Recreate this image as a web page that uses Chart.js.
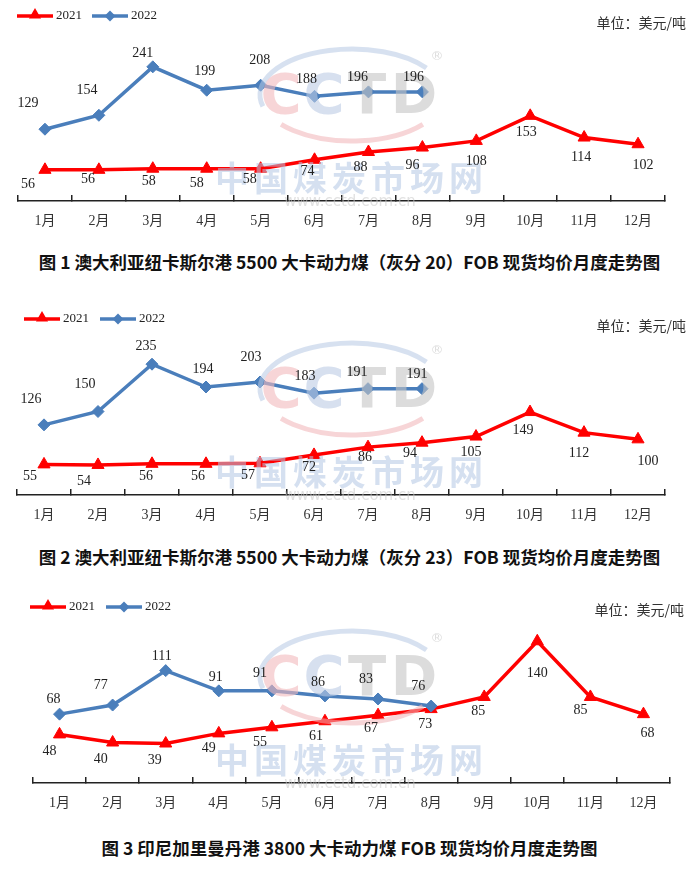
<!DOCTYPE html>
<html><head><meta charset="utf-8">
<script src="https://cdn.jsdelivr.net/npm/chart.js@4.4.0/dist/chart.umd.min.js"></script>
<style>
html,body{margin:0;padding:0;background:#fff;}
body{width:699px;height:878px;position:relative;overflow:hidden;}
canvas{position:absolute;left:0;}
.title{position:absolute;left:0;width:699px;text-align:center;font-family:"Noto Sans CJK SC","Noto Sans",sans-serif;font-weight:bold;font-size:17.5px;color:#111;line-height:20px;white-space:nowrap;}
</style></head><body>
<canvas id="c1" width="699" height="240" style="top:0px;width:699px;height:240px"></canvas>
<div class="title" style="top:252px">图 1 澳大利亚纽卡斯尔港 5500 大卡动力煤（灰分 20）FOB 现货均价月度走势图</div>
<canvas id="c2" width="699" height="240" style="top:295px;width:699px;height:240px"></canvas>
<div class="title" style="top:547px">图 2 澳大利亚纽卡斯尔港 5500 大卡动力煤（灰分 23）FOB 现货均价月度走势图</div>
<canvas id="c3" width="699" height="230" style="top:590px;width:699px;height:230px"></canvas>
<div class="title" style="top:838px">图 3 印尼加里曼丹港 3800 大卡动力煤 FOB 现货均价月度走势图</div>
<script>
// ---- data ----
const months = ['1月','2月','3月','4月','5月','6月','7月','8月','9月','10月','11月','12月'];
const seriesNames = ['2021','2022'];
const c1_2021 = [56,56,58,58,58,74,88,96,108,153,114,102];
const c1_2022 = [129,154,241,199,208,188,196,196,null,null,null,null];
const c2_2021 = [55,54,56,56,57,72,86,94,105,149,112,100];
const c2_2022 = [126,150,235,194,203,183,191,191,null,null,null,null];
const c3_2021 = [48,40,39,49,55,61,67,73,85,140,85,68];
const c3_2022 = [68,77,111,91,91,86,83,76,null,null,null,null];
const unitText = '单位：美元/吨';

// ---- label placement (offsets from point to label centre) ----
const off1_2021 = [[-17,15],[-11,10],[-4,13],[-10,15],[-11,11],[-7,12],[-8,15],[-10,18],[0,20],[-4,16],[-3,20],[5,21]];
const off1_2022 = [[-17,-26],[-12,-25],[-10,-14],[-2,-19],[-1,-25],[-8,-17],[-11,-15],[-9,-15]];
const off2_2021 = [[-14,12],[-14,16],[-6,13],[-8,13],[-12,12],[-5,12],[-3,10],[-12,11],[-5,16],[-7,18],[-5,21],[10,22]];
const off2_2022 = [[-13,-26],[-13,-27],[-6,-18],[-3,-18],[-9,-25],[-9,-17],[-11,-16],[-5,-14]];
const off3_2021 = [[-10,17],[-12,17],[-11,17],[-10,15],[-12,15],[-9,15],[-7,13],[-6,15],[-6,14],[0,32],[-10,13],[4,19]];
const off3_2022 = [[-6,-15],[-12,-20],[-4,-14],[-3,-14],[-12,-18],[-7,-14],[-12,-20],[-13,-20]];

const RED = '#FF0000';
const BLUE = '#4A7EBB';
const SERIF = '"Liberation Serif","Noto Sans CJK SC",serif';

function drawWatermark(ctx, base) {
  const cy = base - 104;
  ctx.save();
  // ellipse arcs
  ctx.globalAlpha = 0.55;
  ctx.lineWidth = 5;
  ctx.strokeStyle = '#b7c8e4';
  ctx.beginPath(); ctx.ellipse(352, cy - 2, 92, 46, 0, Math.PI * 0.92, Math.PI * 1.80); ctx.stroke();
  ctx.strokeStyle = '#f0b2b6';
  ctx.beginPath(); ctx.ellipse(352, cy - 2, 92, 46, 0, Math.PI * 0.22, Math.PI * 0.78); ctx.stroke();
  // letters
  ctx.globalAlpha = 0.6;
  ctx.font = 'bold 56px "DejaVu Sans"';
  ctx.textBaseline = 'middle';
  ctx.textAlign = 'center';
  const letters = [['C', 281, '#f2b9bd'], ['C', 324, '#bccbe5'], ['T', 367, '#c4c4c4'], ['D', 414, '#c4c4c4']];
  letters.forEach(l => { ctx.fillStyle = l[2]; ctx.fillText(l[0], l[1], cy + 1); });
  ctx.globalAlpha = 0.7;
  ctx.fillStyle = '#cfcfcf';
  ctx.font = '13px "DejaVu Sans"';
  ctx.fillText('®', 437, cy - 40);
  // chinese name
  ctx.globalAlpha = 0.55;
  ctx.fillStyle = '#b3c6e3';
  ctx.font = 'bold 34px "Noto Sans CJK SC"';
  const name = '中国煤炭市场网';
  for (let i = 0; i < name.length; i++) ctx.fillText(name[i], 232 + 39 * i, base - 23);
  ctx.fillStyle = '#c8c8c8';
  ctx.font = '15px "DejaVu Sans"';
  ctx.fillText('www.cctd.com.cn', 350, base + 1);
  ctx.restore();
}

function drawTri(ctx, x, y, r) {
  ctx.beginPath();
  ctx.moveTo(x, y - r);
  ctx.lineTo(x + r * 0.866, y + r * 0.5);
  ctx.lineTo(x - r * 0.866, y + r * 0.5);
  ctx.closePath(); ctx.fill();
}
function drawDia(ctx, x, y, r) {
  ctx.beginPath();
  ctx.moveTo(x, y - r); ctx.lineTo(x + r, y); ctx.lineTo(x, y + r); ctx.lineTo(x - r, y);
  ctx.closePath(); ctx.fill();
}

function makeDecor(cfg) {
  return {
    id: 'decor',
    afterDatasetsDraw(chart) {
      const ctx = chart.ctx;
      drawWatermark(ctx, chart.chartArea.bottom);
      ctx.save();
      ctx.font = '14px ' + SERIF;
      ctx.fillStyle = '#222';
      ctx.textAlign = 'center';
      ctx.textBaseline = 'middle';
      chart.data.datasets.forEach((ds, di) => {
        const meta = chart.getDatasetMeta(di);
        const offs = cfg.offsets[di];
        meta.data.forEach((pt, i) => {
          const v = ds.data[i];
          if (v === null || v === undefined) return;
          const o = offs[i];
          ctx.fillText(String(v), pt.x + o[0], pt.y + o[1]);
        });
      });
      ctx.restore();
    },
    afterDraw(chart) {
      const ctx = chart.ctx;
      const L = cfg.legend;
      ctx.save();
      ctx.lineWidth = 3.5;
      // 2021
      ctx.strokeStyle = RED; ctx.fillStyle = RED;
      ctx.beginPath(); ctx.moveTo(L.x1, L.y); ctx.lineTo(L.x1 + 36, L.y); ctx.stroke();
      drawTri(ctx, L.x1 + 18, L.y - 1, 7);
      // 2022
      ctx.strokeStyle = BLUE; ctx.fillStyle = BLUE;
      ctx.beginPath(); ctx.moveTo(L.x2, L.y); ctx.lineTo(L.x2 + 36, L.y); ctx.stroke();
      drawDia(ctx, L.x2 + 18, L.y, 5.5);
      ctx.font = '13px ' + SERIF;
      ctx.fillStyle = '#222';
      ctx.textBaseline = 'middle';
      ctx.textAlign = 'left';
      ctx.fillText(seriesNames[0], L.x1 + 39, L.y);
      ctx.fillText(seriesNames[1], L.x2 + 39, L.y);
      ctx.font = '14px "Noto Sans CJK SC"';
      ctx.fillStyle = '#333';
      ctx.textAlign = 'right';
      ctx.fillText(unitText, cfg.unit.x, cfg.unit.y);
      ctx.restore();
    }
  };
}

function makeChart(id, d2021, d2022, cfg) {
  const axisH = cfg.height - cfg.base;
  return new Chart(document.getElementById(id), {
    type: 'line',
    data: {
      labels: months,
      datasets: [
        { label: seriesNames[0], data: d2021, borderColor: RED, backgroundColor: RED, borderWidth: 3.5,
          pointStyle: 'triangle', pointRadius: 7, pointHoverRadius: 7, pointBorderWidth: 1, tension: 0, order: 2 },
        { label: seriesNames[1], data: d2022, borderColor: BLUE, backgroundColor: BLUE, borderWidth: 3.5,
          pointStyle: 'rectRot', pointRadius: 6, pointHoverRadius: 6, pointBorderWidth: 1, tension: 0, order: 1 }
      ]
    },
    options: {
      responsive: false,
      animation: false,
      devicePixelRatio: 1,
      events: [],
      layout: { padding: { left: cfg.left, right: cfg.right, top: cfg.top, bottom: 0 } },
      plugins: { legend: { display: false }, tooltip: { enabled: false }, title: { display: false } },
      scales: {
        x: {
          type: 'category',
          offset: true,
          grid: { display: true, drawOnChartArea: false, drawTicks: true, tickLength: -6, offset: true, color: '#222', lineWidth: 1.5 },
          border: { display: true, color: '#222', width: 1.5 },
          ticks: { color: '#333', font: { family: SERIF, size: 14 }, padding: 18, maxRotation: 0, autoSkip: false },
          afterFit: (s) => { s.height = axisH; }
        },
        y: { display: false, min: 0, max: cfg.ymax }
      }
    },
    plugins: [makeDecor(cfg)]
  });
}

makeChart('c1', c1_2021, c1_2022, {
  height: 240, base: 201, left: 18, right: 34, top: 34, ymax: 300,
  offsets: [off1_2021, off1_2022],
  legend: { x1: 17, x2: 92, y: 16 }, unit: { x: 686, y: 23 }
});
makeChart('c2', c2_2021, c2_2022, {
  height: 240, base: 200, left: 17, right: 34, top: 33, ymax: 300,
  offsets: [off2_2021, off2_2022],
  legend: { x1: 24, x2: 100, y: 24 }, unit: { x: 686, y: 31 }
});
makeChart('c3', c3_2021, c3_2022, {
  height: 230, base: 193, left: 33, right: 29, top: 31, ymax: 160,
  offsets: [off3_2021, off3_2022],
  legend: { x1: 30, x2: 106, y: 17 }, unit: { x: 684, y: 20 }
});
</script>
</body></html>
